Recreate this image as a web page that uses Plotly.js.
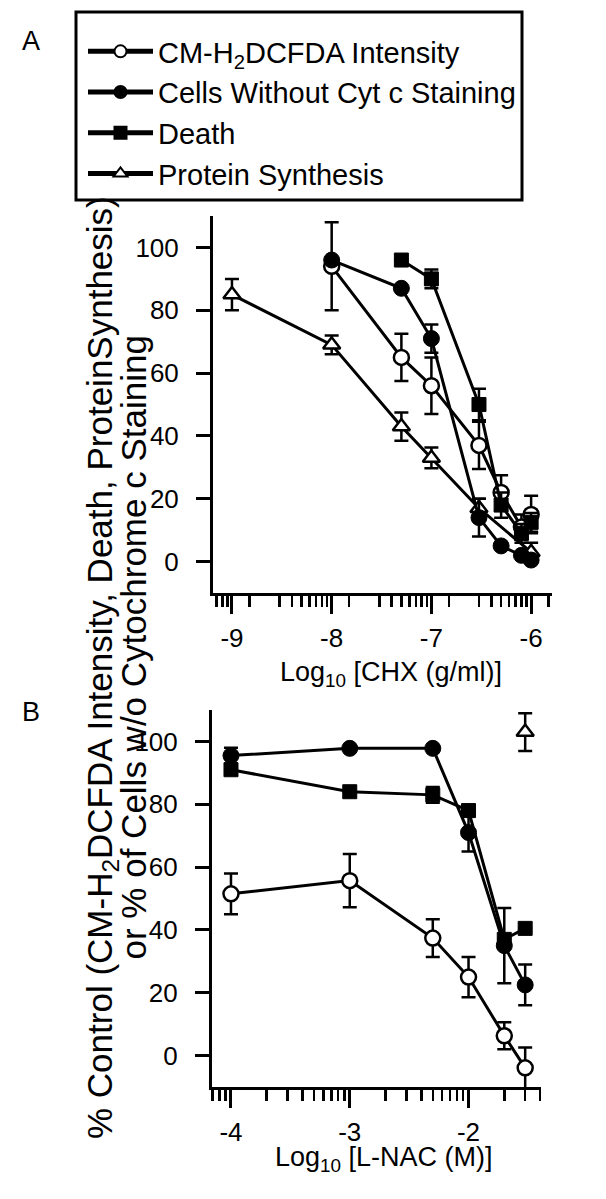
<!DOCTYPE html>
<html><head><meta charset="utf-8">
<script src="https://cdn.plot.ly/plotly-3.0.1.min.js"></script>
<style>html,body{margin:0;padding:0;background:#fff}#chart{width:606px;height:1199px}</style>
</head><body><div id="chart"></div>
<script>
// ---------- Panel A : Log10 [CHX (g/ml)] ----------
const chxCM    = [-8, -7.301, -7, -6.523, -6.301, -6.097, -6];
const cmA      = [94, 65, 56, 37, 22, 11, 15];
const cmAErr   = [14, 7.5, 9, 7.5, 5.5, 4, 6];

const chxCyt   = [-8, -7.301, -7, -6.523, -6.301, -6.097, -6];
const cytA     = [96, 87, 71, 14, 5, 2, 0.5];
const cytAErr  = [0, 0, 4.5, 6, 0, 0, 0];

const chxDeath = [-7.301, -7, -6.523, -6.301, -6.097, -6];
const deathA   = [96, 90, 50, 18, 9, 12.5];
const deathAErr= [0, 3, 5, 4, 3, 3];

const chxProt  = [-9, -8, -7.301, -7, -6.523, -6];
const protA    = [85, 69, 43, 33, 17, 3];
const protAErr = [5, 3, 4.5, 3.3, 3, 3];

// ---------- Panel B : Log10 [L-NAC (M)] ----------
const nac      = [-4, -3, -2.301, -2, -1.699, -1.523];
const cmB      = [51.5, 55.7, 37.4, 25, 6.3, -3.9];
const cmBErr   = [6.5, 8.5, 6, 6.4, 4.3, 6.5];
const cytB     = [95.5, 97.8, 97.8, 71, 35, 22.5];
const cytBErr  = [2.5, 0, 0, 6, 12, 6.5];
const deathB   = [91, 84, 83, 78, 37, 40.5];
const deathBErr= [0, 0, 2.5, 0, 0, 0];
const nacProt  = [-1.523];
const protB    = [103];
const protBErr = [6];

// tick labels
const ticksA = [-9, -8, -7, -6];
const tickTextA = ['-9', '-8', '-7', '-6'];
const ticksB = [-4, -3, -2];
const tickTextB = ['-4', '-3', '-2'];
const yTicks = [0, 20, 40, 60, 80, 100];

const names = ['CM-H<sub>2</sub>DCFDA Intensity', 'Cells Without Cyt c Staining', 'Death', 'Protein Synthesis'];

// minor ticks
function minorTicks(decades, offs, lo, hi) {
  const out = [];
  decades.forEach(d => offs.forEach(o => { const v = d + o; if (v > lo && v < hi) out.push(v); }));
  return out;
}
const offsA = [1.5, 3, 4, 5, 6, 7, 8, 9].map(Math.log10);
const offsB = [2, 3, 4, 5, 6, 7, 8, 9].map(Math.log10);
const rangeA = [-9.19, -5.79];
const rangeB = [-4.16, -1.39];
const minorA = minorTicks([-10, -9, -8, -7, -6], offsA, rangeA[0], rangeA[1]);
const minorB = minorTicks([-5, -4, -3, -2], offsB, rangeB[0], rangeB[1]);

const openC  = {symbol: 'circle', size: 15, color: '#fff', line: {color: '#000', width: 2.5}};
const fillC  = {symbol: 'circle', size: 16, color: '#000', line: {color: '#000', width: 1}};
const fillS  = {symbol: 'square', size: 14, color: '#000', line: {color: '#000', width: 1}};
const openT  = {symbol: 'triangle-up', size: 15, color: '#fff', line: {color: '#000', width: 2.5}};
const ln = {color: '#000', width: 3};
function err(a) { return {type: 'data', array: a, visible: true, color: '#000', thickness: 2.5, width: 7}; }

const traces = [
  {x: chxProt, y: protA, error_y: err(protAErr), mode: 'lines+markers', marker: openT, line: ln, name: names[3], xaxis: 'x', yaxis: 'y', legendrank: 4},
  {x: chxCM, y: cmA, error_y: err(cmAErr), mode: 'lines+markers', marker: openC, line: ln, name: names[0], xaxis: 'x', yaxis: 'y', legendrank: 1},
  {x: chxDeath, y: deathA, error_y: err(deathAErr), mode: 'lines+markers', marker: fillS, line: ln, name: names[2], xaxis: 'x', yaxis: 'y', legendrank: 3},
  {x: chxCyt, y: cytA, error_y: err(cytAErr), mode: 'lines+markers', marker: fillC, line: ln, name: names[1], xaxis: 'x', yaxis: 'y', legendrank: 2},

  {x: nac, y: cmB, error_y: err(cmBErr), mode: 'lines+markers', marker: openC, line: ln, showlegend: false, xaxis: 'x2', yaxis: 'y2'},
  {x: nac, y: deathB, error_y: err(deathBErr), mode: 'lines+markers', marker: fillS, line: ln, showlegend: false, xaxis: 'x2', yaxis: 'y2'},
  {x: nac, y: cytB, error_y: err(cytBErr), mode: 'lines+markers', marker: fillC, line: ln, showlegend: false, xaxis: 'x2', yaxis: 'y2'},
  {x: nacProt, y: protB, error_y: err(protBErr), mode: 'markers', marker: openT, showlegend: false, xaxis: 'x2', yaxis: 'y2'}
];

const FONT = 'Liberation Sans, Arial, sans-serif';
const tickFont = {family: FONT, size: 26, color: '#000'};

function xAxis(range, tv, tt, minor, domain, anchor) {
  return {range: range, domain: domain, anchor: anchor, tickmode: 'array', tickvals: tv, ticktext: tt,
    ticks: 'outside', ticklen: 18, tickwidth: 3, tickcolor: '#000', showline: true, linewidth: 3, linecolor: '#000',
    showgrid: false, zeroline: false, tickfont: tickFont, ticklabelstandoff: 2,
    minor: {tickmode: 'array', tickvals: minor, ticks: 'outside', ticklen: 11, tickwidth: 2.5, tickcolor: '#000', showgrid: false}};
}
function yAxis(domain, anchor) {
  return {range: [-10, 110], domain: domain, anchor: anchor, tickmode: 'array', tickvals: yTicks,
    ticks: 'outside', ticklen: 14, tickwidth: 3, tickcolor: '#000', showline: true, linewidth: 3, linecolor: '#000',
    showgrid: false, zeroline: false, tickfont: tickFont, ticklabelstandoff: 12};
}

const W = 606, H = 1199;
const titleFont = {family: FONT, size: 27, color: '#000'};
const yTitleFont = {family: FONT, size: 35, color: '#000'};

const layout = {
  width: W, height: H, margin: {l: 0, r: 0, t: 0, b: 0}, paper_bgcolor: '#fff', plot_bgcolor: '#fff',
  font: {family: FONT, color: '#000'},
  xaxis: xAxis(rangeA, ticksA, tickTextA, minorA, [0.3515, 0.911], 'y'),
  yaxis: yAxis([0.5054, 0.8198], 'x'),
  xaxis2: xAxis(rangeB, ticksB, tickTextB, minorB, [0.3498, 0.8927], 'y2'),
  yaxis2: yAxis([0.0934, 0.4078], 'x2'),
  showlegend: true,
  legend: {x: 83 / W, y: 1 - 26 / H, xanchor: 'left', yanchor: 'top', borderwidth: 0, bgcolor: 'rgba(0,0,0,0)',
    font: {family: FONT, size: 29, color: '#000'}, itemsizing: 'constant', itemwidth: 65, tracegroupgap: 0, traceorder: 'normal'},
  shapes: [
    {type: 'rect', xref: 'paper', yref: 'paper', x0: 76 / W, x1: 522 / W, y0: 1 - 200 / H, y1: 1 - 12 / H,
     line: {color: '#000', width: 3}, fillcolor: 'rgba(0,0,0,0)', layer: 'below'}
  ],
  annotations: [
    {xref: 'paper', yref: 'paper', x: 20 / W, y: 1 - 24 / H, text: 'A', showarrow: false, font: titleFont},
    {xref: 'paper', yref: 'paper', x: 20 / W, y: 1 - 712 / H, text: 'B', showarrow: false, font: titleFont},
    {xref: 'paper', yref: 'paper', x: 391 / W, y: 1 - 674 / H, text: 'Log<sub>10</sub> [CHX (g/ml)]', showarrow: false, font: titleFont},
    {xref: 'paper', yref: 'paper', x: 384 / W, y: 1 - 1178 / H, text: 'Log<sub>10</sub> [L-NAC (M)]', showarrow: false, font: titleFont},
    {xref: 'paper', yref: 'paper', x: 78 / W, y: 1 - 668 / H, textangle: -90, showarrow: false,
     text: '% Control (CM-H<sub>2</sub>DCFDA Intensity, Death, ProteinSynthesis)', font: yTitleFont},
    {xref: 'paper', yref: 'paper', x: 111 / W, y: 1 - 648 / H, textangle: -90, showarrow: false,
     text: 'or % of Cells w/o Cytochrome c Staining', font: yTitleFont}
  ]
};

Plotly.newPlot('chart', traces, layout, {staticPlot: true});
</script></body></html>
